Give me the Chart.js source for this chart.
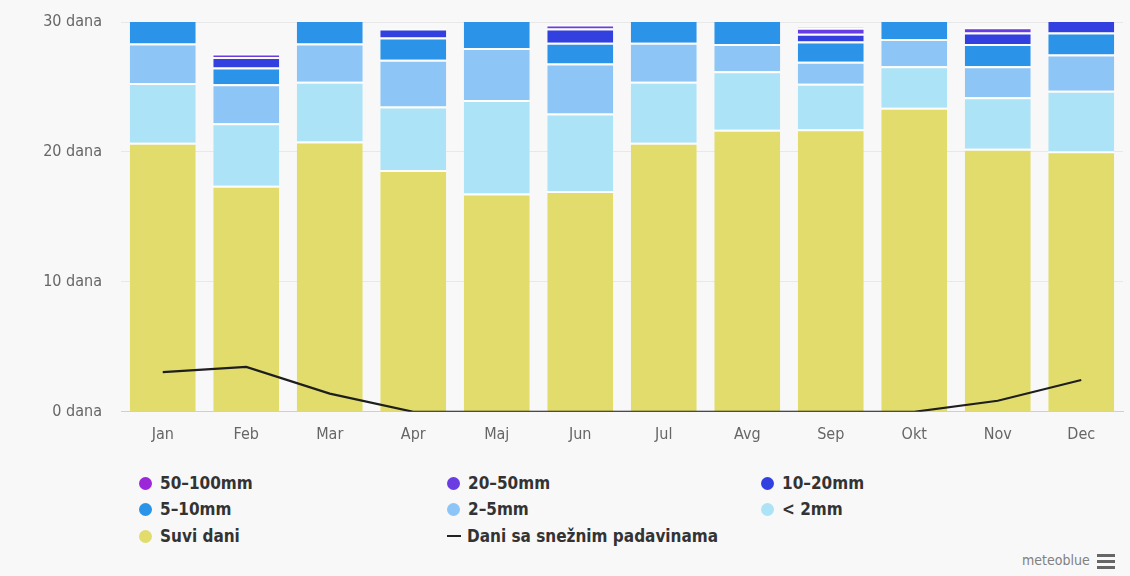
<!DOCTYPE html>
<html>
<head>
<meta charset="utf-8">
<script src="https://cdn.jsdelivr.net/npm/chart.js@4"></script>
<style>
  html, body { margin: 0; padding: 0; background: #f8f8f8; }
  body { width: 1130px; height: 576px; position: relative; overflow: hidden;
         font-family: "Liberation Sans Narrow", "DejaVu Sans Condensed", sans-serif; }
  #wrap { position: absolute; left: 0; top: 0; width: 1130px; height: 449px; }
  #legend { position: absolute; left: 139px; top: 473px; width: 900px; }
  .item { position: absolute; font-weight: bold; font-size: 17px; color: #333; white-space: nowrap; }
  .dot { display: inline-block; width: 13px; height: 13px; border-radius: 50%; vertical-align: -1px; margin-right: 8px; }
  .dash { display: inline-block; width: 14px; height: 2px; background: #222; vertical-align: 5px; margin-right: 6px; }
  #brand { position: absolute; left: 1022px; top: 552px; font-size: 14px; color: #808080; }
  #menu { position: absolute; left: 1097px; top: 554px; width: 18px; }
  #menu div { height: 3px; background: #666; margin-bottom: 3px; }
</style>
</head>
<body>
<div id="wrap"><canvas id="rainDays"></canvas></div>
<div id="legend"></div>
<div id="brand">meteoblue</div>
<div id="menu"><div></div><div></div><div></div></div>
<script>
const months = ["Jan", "Feb", "Mar", "Apr", "Maj", "Jun", "Jul", "Avg", "Sep", "Okt", "Nov", "Dec"];
const yTicks = [0, 10, 20, 30];

// days per month in each precipitation class
const dryDays  = [20.7, 17.4, 20.8, 18.6, 16.8, 17.0, 20.7, 21.7, 21.75, 23.4, 20.25, 20.05];
const under2   = [4.6, 4.8, 4.6, 4.9, 7.2, 5.95, 4.7, 4.5, 3.5, 3.2, 3.95, 4.65];
const mm2to5   = [3.05, 3.0, 2.95, 3.6, 4.0, 3.85, 3.0, 2.1, 1.7, 2.1, 2.4, 2.8];
const mm5to10  = [2.65, 1.3, 2.65, 1.7, 3.0, 1.6, 2.6, 2.7, 1.55, 2.3, 1.7, 1.7];
const mm10to20 = [0, 0.8, 0, 0.7, 0, 1.1, 0, 0, 0.6, 0, 0.9, 1.8];
const mm20to50 = [0, 0.25, 0, 0, 0, 0.3, 0, 0, 0.45, 0, 0.4, 0];
const mm50to100 = [0, 0, 0, 0, 0, 0, 0, 0, 0.05, 0, 0, 0];
const snowDays = [3.05, 3.45, 1.4, 0, 0, 0, 0, 0, 0, 0, 0.85, 2.45];

var barSet = (label, color, data) => ({
  type: "bar",
  label: label,
  data: data,
  backgroundColor: color,
  borderColor: "rgba(255,255,255,0.85)",
  borderWidth: { top: 2, left: 0, right: 0, bottom: 0 },
  borderSkipped: false,
  stack: "rain",
  order: 2
});

const ctx = document.getElementById("rainDays").getContext("2d");
const chart = new Chart(ctx, {
  data: {
    labels: months,
    datasets: [
      barSet("Suvi dani", "#e1dc6c", dryDays),
      barSet("< 2mm", "#ace3f6", under2),
      barSet("2-5mm", "#8dc6f6", mm2to5),
      barSet("5-10mm", "#2b93e8", mm5to10),
      barSet("10-20mm", "#3340e0", mm10to20),
      barSet("20-50mm", "#6a3de2", mm20to50),
      barSet("50-100mm", "#9b27d8", mm50to100),
      {
        type: "line",
        label: "Dani sa snežnim padavinama",
        data: snowDays,
        borderColor: "#1e1e1e",
        borderWidth: 2.2,
        pointRadius: 0,
        tension: 0,
        stack: "snow",
        order: 1
      }
    ]
  },
  options: {
    responsive: true,
    maintainAspectRatio: false,
    animation: false,
    layout: { padding: { top: 22, right: 7, left: 0, bottom: 0 } },
    plugins: { legend: { display: false }, tooltip: { enabled: false } },
    datasets: { bar: { barPercentage: 0.79, categoryPercentage: 1 } },
    scales: {
      x: {
        stacked: true,
        grid: { display: false },
        border: { color: "#cfcfcf" },
        ticks: { color: "#666", font: { family: "DejaVu Sans Condensed", size: 16 }, padding: 5 }
      },
      y: {
        stacked: true,
        min: 0,
        max: 30,
        afterBuildTicks: (s) => { s.ticks = yTicks.map(v => ({ value: v })); },
        afterFit: (s) => { s.width = 121; },
        grid: { color: "#e8e8e8", drawTicks: true, tickLength: 17, tickColor: "rgba(0,0,0,0)" },
        border: { display: false },
        ticks: {
          color: "#666",
          padding: 2,
          font: { family: "DejaVu Sans Condensed", size: 16 },
          callback: (v) => v + " dana"
        }
      }
    }
  }
});

// html legend, three columns like the original
const legendOrder = ["50-100mm", "20-50mm", "10-20mm", "5-10mm", "2-5mm", "< 2mm", "Suvi dani", "Dani sa snežnim padavinama"];
const colX = [0, 308, 622];
const rowY = [0, 26, 53];
const legend = document.getElementById("legend");
legendOrder.forEach((name, i) => {
  const ds = chart.data.datasets.find(d => d.label === name);
  const el = document.createElement("div");
  el.className = "item";
  el.style.left = colX[i % 3] + "px";
  el.style.top = rowY[Math.floor(i / 3)] + "px";
  const mark = document.createElement("span");
  if (ds.type === "line") {
    mark.className = "dash";
  } else {
    mark.className = "dot";
    mark.style.background = ds.backgroundColor;
  }
  el.appendChild(mark);
  el.appendChild(document.createTextNode(name.replace(/-/g, "\u2013")));
  legend.appendChild(el);
});
</script>
</body>
</html>
